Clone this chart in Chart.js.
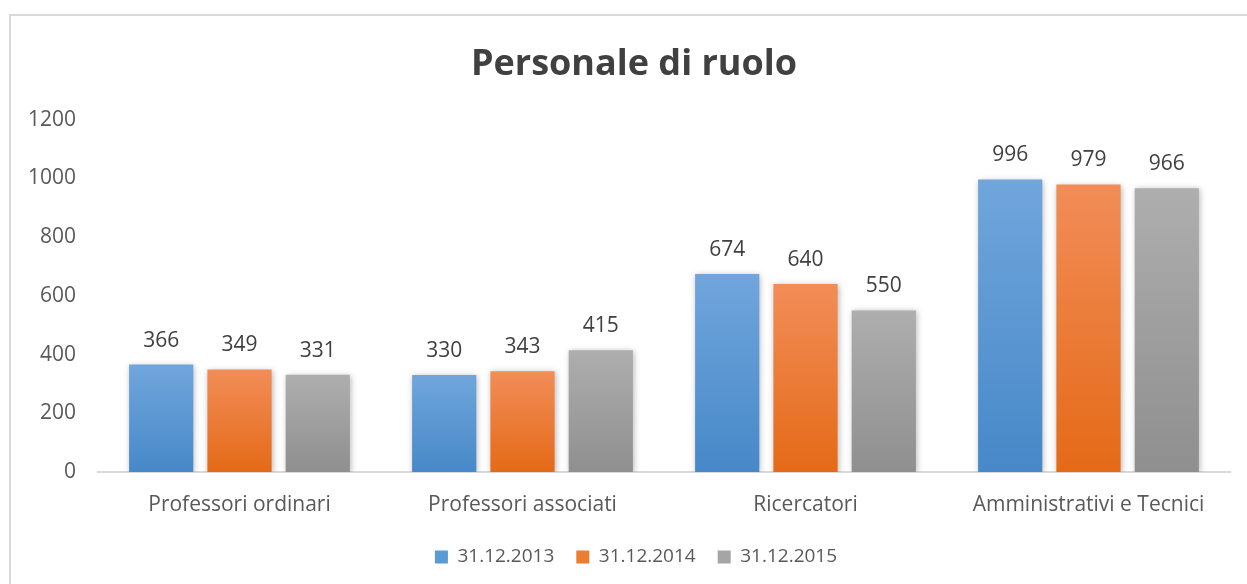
<!DOCTYPE html>
<html>
<head>
<meta charset="utf-8">
<script src="https://cdn.jsdelivr.net/npm/chart.js@4.4.0/dist/chart.umd.min.js"></script>
<style>
  html, body { margin: 0; padding: 0; background: #fff; overflow: hidden; }
  #wrap { position: relative; width: 1247px; height: 584px; }
  #frame { position: absolute; left: 9px; top: 14px; width: 1300px; height: 700px; border: 2px solid #d9d9d9; box-sizing: border-box; }
  canvas { position: absolute; left: 0; top: 0; }
</style>
</head>
<body>
<div id="wrap">
  <div id="frame"></div>
  <canvas id="chart" width="1247" height="584"></canvas>
</div>
<script>
// data
const categories = ['Professori ordinari', 'Professori associati', 'Ricercatori', 'Amministrativi e Tecnici'];
const seriesNames = ['31.12.2013', '31.12.2014', '31.12.2015'];
const values2013 = [366, 330, 674, 996];
const values2014 = [349, 343, 640, 979];
const values2015 = [331, 415, 550, 966];
const yTicks = [0, 200, 400, 600, 800, 1000, 1200];

// top / bottom colours of the bar gradients, plus legend swatch colour
const palette = [
  { top: '#70a6dc', bottom: '#4788c8', flat: '#5b9bd5' },
  { top: '#f28d58', bottom: '#e46a17', flat: '#ed7d31' },
  { top: '#aeaeae', bottom: '#8f8f8f', flat: '#a5a5a5' }
];

function barGradient(idx) {
  return function (ctx) {
    const chart = ctx.chart;
    const area = chart.chartArea;
    if (!area || ctx.type !== 'data') return palette[idx].flat;
    const y = chart.scales.y;
    const yTop = y.getPixelForValue(ctx.raw);
    const yBot = y.getPixelForValue(0);
    if (!isFinite(yTop) || yTop === yBot) return palette[idx].flat;
    const g = chart.ctx.createLinearGradient(0, yTop, 0, yBot);
    g.addColorStop(0, palette[idx].top);
    g.addColorStop(1, palette[idx].bottom);
    return g;
  };
}

// title and legend sit centred on the whole frame, not on the plot
const centreBoxes = {
  id: 'centreBoxes',
  afterLayout(chart) {
    if (chart.titleBlock) { chart.titleBlock.left += 10; chart.titleBlock.right += 10; }
    if (chart.legend) { chart.legend.left += 12; chart.legend.right += 12; }
  }
};

// soft drop shadow under the bars
const barShadow = {
  id: 'barShadow',
  beforeDatasetsDraw(chart) {
    const c = chart.ctx;
    c.save();
    c.shadowColor = 'rgba(0,0,0,0.28)';
    c.shadowBlur = 6;
    c.shadowOffsetX = 1;
    c.shadowOffsetY = 1;
  },
  afterDatasetsDraw(chart) {
    chart.ctx.restore();
  }
};

// value labels above each bar
const valueLabels = {
  id: 'valueLabels',
  afterDatasetsDraw(chart) {
    const c = chart.ctx;
    c.save();
    c.font = '21px "Open Sans"';
    c.fillStyle = '#404040';
    c.textAlign = 'center';
    c.textBaseline = 'middle';
    chart.data.datasets.forEach((ds, i) => {
      chart.getDatasetMeta(i).data.forEach((bar, j) => {
        c.fillText(String(ds.data[j]), bar.x, bar.y - 24);
      });
    });
    c.restore();
  }
};

const allSeries = [values2013, values2014, values2015];

new Chart(document.getElementById('chart'), {
  type: 'bar',
  data: {
    labels: categories,
    datasets: seriesNames.map((name, i) => ({
      label: name,
      data: allSeries[i],
      backgroundColor: barGradient(i),
      borderWidth: 0,
      categoryPercentage: 0.83,
      barPercentage: 0.82
    }))
  },
  options: {
    responsive: false,
    animation: false,
    devicePixelRatio: 1,
    layout: { padding: { left: 18, right: 17, top: 0, bottom: 7.5 } },
    plugins: {
      title: {
        display: true,
        text: 'Personale di ruolo',
        color: '#404040',
        font: { family: 'Open Sans', size: 36, weight: 'bold' },
        padding: { top: 43, bottom: 33.4 }
      },
      legend: {
        position: 'bottom',
        labels: {
          generateLabels(chart) {
            return chart.data.datasets.map((ds, i) => ({
              text: ds.label,
              fillStyle: palette[i].flat,
              strokeStyle: palette[i].flat,
              lineWidth: 0,
              datasetIndex: i,
              fontColor: '#595959'
            }));
          },
          boxWidth: 13,
          boxHeight: 13,
          padding: 22,
          color: '#595959',
          font: { family: 'Open Sans', size: 19 }
        }
      },
      tooltip: { enabled: false }
    },
    scales: {
      x: {
        afterFit(scale) { scale.height = 53.5; },
        grid: { display: false, drawTicks: false },
        border: { display: true, color: '#d9d9d9', width: 2 },
        ticks: { color: '#595959', padding: 20, font: { family: 'Open Sans', size: 21 } }
      },
      y: {
        min: 0,
        max: 1200,
        afterBuildTicks(scale) { scale.ticks = yTicks.map(v => ({ value: v })); },
        afterFit(scale) { scale.width = 80; },
        grid: { display: false, drawTicks: false },
        border: { display: false },
        ticks: {
          color: '#595959',
          padding: 22,
          font: { family: 'Open Sans', size: 21 },
          callback: v => String(v)
        }
      }
    }
  },
  plugins: [centreBoxes, barShadow, valueLabels]
});
</script>
</body>
</html>
